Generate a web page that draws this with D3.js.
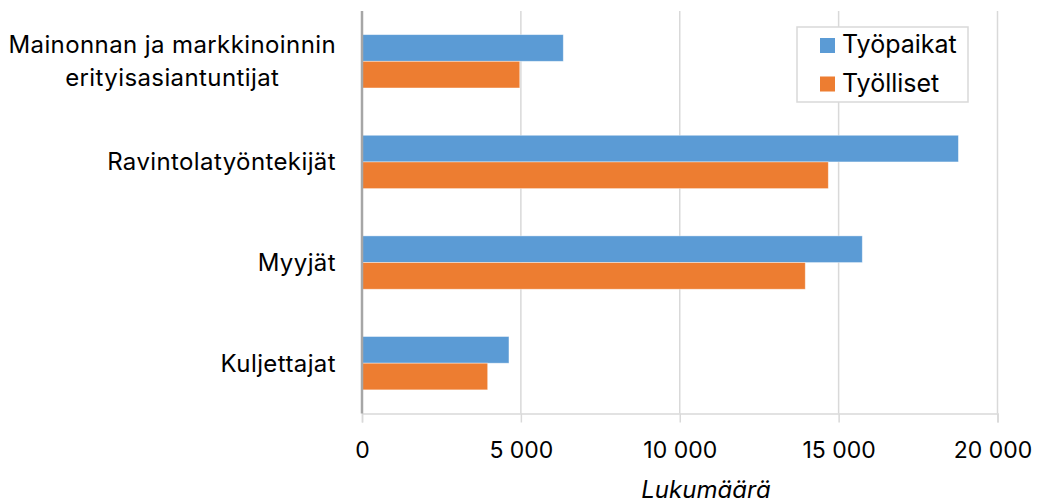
<!DOCTYPE html>
<html lang="fi">
<head>
  <meta charset="UTF-8">
  <title>Työpaikat ja työlliset</title>
  <script src="https://d3js.org/d3.v7.min.js"></script>
  <style>
    body { margin: 0; background: #fff; }
    text { font-family: Inter, "Noto Sans", sans-serif; fill: #000; }
  </style>
</head>
<body>
  <div id="chart"></div>
  <script>
    var categories = [
      ["Mainonnan ja markkinoinnin", "erityisasiantuntijat"],
      ["Ravintolatyöntekijät"],
      ["Myyjät"],
      ["Kuljettajat"]
    ];
    var seriesNames = ["Työpaikat", "Työlliset"];
    var tyopaikat = [6335, 18770, 15745, 4625];
    var tyolliset = [4965, 14675, 13950, 3955];
    var xTicks = [0, 5000, 10000, 15000, 20000];
    var colors = ["#5b9bd5", "#ed7d31"];

    var width = 1047, height = 504;
    var plotLeft = 362, plotRight = 997.5, plotTop = 11, plotBottom = 413.5;

    var svg = d3.select("#chart").append("svg")
      .attr("width", width)
      .attr("height", height);

    var x = d3.scaleLinear().domain([0, 20000]).range([plotLeft, plotRight]);
    var y = d3.scaleBand().domain(d3.range(categories.length)).range([plotTop, plotBottom])
      .paddingInner(0.47).paddingOuter(0.235);
    var ySub = d3.scaleBand().domain([0, 1]).range([0, y.bandwidth()]);

    // gridlines
    svg.append("g").selectAll("line").data(xTicks.slice(1)).join("line")
      .attr("x1", d => x(d)).attr("x2", d => x(d))
      .attr("y1", plotTop).attr("y2", plotBottom)
      .attr("stroke", "#d9d9d9").attr("stroke-width", 1.5);

    // bottom axis
    var fmt = d => d3.format(",")(d).replace(/,/g, " ");
    var xAxis = svg.append("g")
      .attr("transform", "translate(0," + plotBottom + ")")
      .call(d3.axisBottom(x).tickValues(xTicks).tickFormat(fmt).tickSizeOuter(0).tickSize(9).tickPadding(19));
    xAxis.select(".domain").attr("stroke", "#d9d9d9").attr("stroke-width", 1.5);
    xAxis.selectAll(".tick line").attr("stroke", "#d9d9d9").attr("stroke-width", 1.5);
    xAxis.selectAll(".tick text").attr("font-size", 23).attr("fill", "#000")
      .style("font-family", "Inter, sans-serif")
      .attr("dx", d => d === 20000 ? -5 : 0);

    // bars
    var data = categories.map((c, i) => [tyopaikat[i], tyolliset[i]]);
    var groups = svg.append("g").selectAll("g").data(data).join("g")
      .attr("transform", (d, i) => "translate(0," + y(i) + ")");
    groups.selectAll("rect").data(d => d).join("rect")
      .attr("x", x(0))
      .attr("y", (d, j) => ySub(j))
      .attr("width", d => x(d) - x(0))
      .attr("height", ySub.bandwidth())
      .attr("fill", (d, j) => colors[j])
      .attr("stroke", "#fff").attr("stroke-opacity", 0.5).attr("stroke-width", 0.8);

    // left axis line
    svg.append("line")
      .attr("x1", plotLeft).attr("x2", plotLeft).attr("y1", plotTop).attr("y2", plotBottom)
      .attr("stroke", "#a6a6a6").attr("stroke-width", 2.5);

    // category labels
    var labelRight = 336;
    var lineH = 33;
    categories.forEach(function (lines, i) {
      var cy = y(i) + y.bandwidth() / 2;
      var t = svg.append("text").attr("font-size", 24).attr("letter-spacing", 0.4);
      var tspans = t.selectAll("tspan").data(lines).join("tspan").text(d => d);
      var maxW = 0;
      tspans.each(function () { maxW = Math.max(maxW, this.getComputedTextLength()); });
      var cx = labelRight - maxW / 2;
      var y0 = cy - (lines.length - 1) * lineH / 2;
      t.attr("text-anchor", "middle");
      tspans.attr("x", cx).attr("y", (d, k) => y0 + k * lineH).attr("dy", "0.35em");
    });

    // axis title
    svg.append("text")
      .attr("x", 706).attr("y", 498)
      .attr("text-anchor", "middle")
      .attr("font-size", 24)
      .attr("font-style", "italic")
      .text("Lukumäärä");

    // legend
    var legend = svg.append("g").attr("transform", "translate(797,27)");
    legend.append("rect")
      .attr("width", 171).attr("height", 75)
      .attr("fill", "#fff").attr("stroke", "#d9d9d9").attr("stroke-width", 1.5);
    var items = legend.selectAll("g.item").data(seriesNames).join("g")
      .attr("class", "item")
      .attr("transform", (d, i) => "translate(23," + (11 + i * 38.5) + ")");
    items.append("rect").attr("width", 15).attr("height", 15).attr("fill", (d, i) => colors[i]);
    items.append("text").attr("x", 22).attr("y", 15).attr("font-size", 25).text(d => d);
  </script>
</body>
</html>
